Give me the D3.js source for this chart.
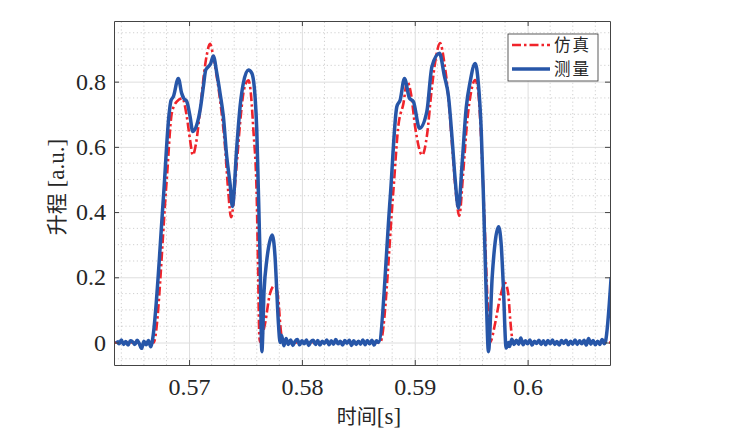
<!DOCTYPE html>
<html>
<head>
<meta charset="utf-8">
<script src="https://cdn.jsdelivr.net/npm/d3@7"></script>
<style>
  body { margin: 0; background: #fff; }
  svg { display: block; }
</style>
</head>
<body>
<div id="chart"></div>
<script>
// size of the page and of the plot box
const width = 733;
const height = 446;
const margin = {left: 114, right: 123, top: 21, bottom: 81};

// tick values
const xTicks = [0.57, 0.58, 0.59, 0.6];
const yTicks = [0, 0.2, 0.4, 0.6, 0.8];

// legend names
const seriesNames = ["仿真", "测量"];

// simulated lift (red dash-dot)
const simTime = [
  0.5633, 0.56685, 0.56802, 0.56847, 0.56891, 0.56941, 0.5698, 0.57009, 0.57033, 0.57062,
  0.57098, 0.57133, 0.57157, 0.57186, 0.57215, 0.57246, 0.57275, 0.57319, 0.57348, 0.57372,
  0.57423, 0.57452, 0.57481, 0.57512, 0.57527, 0.57541, 0.5757, 0.576, 0.57612, 0.57623,
  0.57629, 0.57647, 0.57674, 0.57718, 0.57762, 0.57792, 0.57807, 0.57822, 0.57833,
  0.58693, 0.58811, 0.58853, 0.589, 0.58933, 0.58968, 0.59004, 0.59066, 0.5911, 0.59145,
  0.59181, 0.59225, 0.59261, 0.59296, 0.59332, 0.59367, 0.59394, 0.59429, 0.59465, 0.595,
  0.59535, 0.59562, 0.59589, 0.59615, 0.59642, 0.59668, 0.59713, 0.59757, 0.59801, 0.59828,
  0.59846, 0.59861, 0.59872, 0.6076
];
const simLift = [
  0, 0, 0.498, 0.703, 0.739, 0.749, 0.693, 0.621, 0.575, 0.611,
  0.713, 0.826, 0.882, 0.916, 0.877, 0.815, 0.744, 0.60, 0.46, 0.384,
  0.55, 0.672, 0.764, 0.80, 0.804, 0.785, 0.652, 0.442, 0.22, 0.018,
  0.002, 0.02, 0.059, 0.151, 0.176, 0.13, 0.059, 0.013, 0,
  0, 0.468, 0.66, 0.734, 0.80, 0.76, 0.66, 0.575, 0.64, 0.76,
  0.86, 0.918, 0.86, 0.76, 0.60, 0.45, 0.388, 0.52, 0.68, 0.77,
  0.805, 0.77, 0.62, 0.40, 0.15, 0.002, 0.06, 0.14, 0.182, 0.15,
  0.07, 0.018, 0, 0
];

// measured lift (blue solid)
const measTime = [
  0.5636, 0.5638, 0.564, 0.5642, 0.5644, 0.5646, 0.5648, 0.565, 0.5652, 0.5654,
  0.5656, 0.5658, 0.566, 0.5662, 0.5664, 0.5666,
  0.56672, 0.56772, 0.56823, 0.5684, 0.56861, 0.56905, 0.56935, 0.56953, 0.5698, 0.57009,
  0.57033, 0.57068, 0.57098, 0.57127, 0.57148, 0.57171, 0.57192, 0.57215, 0.57246, 0.57275,
  0.57304, 0.57334, 0.57363, 0.57384, 0.57423, 0.57452, 0.57481, 0.57526, 0.57556, 0.57585,
  0.576, 0.57614, 0.57629, 0.57645, 0.57665, 0.57689, 0.57718, 0.57736, 0.57762, 0.57777,
  0.57792, 0.57807,
  0.5782, 0.5784, 0.5786, 0.5788, 0.579, 0.5792, 0.5794, 0.5796, 0.5798, 0.58,
  0.5802, 0.5804, 0.5806, 0.5808, 0.581, 0.5812, 0.5814, 0.5816, 0.5818, 0.582,
  0.5822, 0.5824, 0.5826, 0.5828, 0.583, 0.5832, 0.5834, 0.5836, 0.5838, 0.584,
  0.5842, 0.5844, 0.5846, 0.5848, 0.585, 0.5852, 0.5854, 0.5856, 0.5858, 0.586,
  0.5862, 0.5864, 0.5866,
  0.58678, 0.58782, 0.58841, 0.58871, 0.58909, 0.58953, 0.58988, 0.59042, 0.59107, 0.59152,
  0.59219, 0.59261, 0.59299, 0.59332, 0.59358, 0.59387, 0.5942, 0.59456, 0.59491, 0.59535,
  0.59562, 0.59589, 0.59609, 0.59633, 0.59653, 0.59686, 0.59713, 0.59742, 0.59766, 0.59784,
  0.5981, 0.59831,
  0.5984, 0.5986, 0.5988, 0.599, 0.5992, 0.5994, 0.5996, 0.5998, 0.6, 0.6002,
  0.6004, 0.6006, 0.6008, 0.601, 0.6012, 0.6014, 0.6016, 0.6018, 0.602, 0.6022,
  0.6024, 0.6026, 0.6028, 0.603, 0.6032, 0.6034, 0.6036, 0.6038, 0.604, 0.6042,
  0.6044, 0.6046, 0.6048, 0.605, 0.6052, 0.6054, 0.6056, 0.6058, 0.606, 0.6062,
  0.6064, 0.6066, 0.6068,
  0.60688, 0.6074
];
const measLift = [
  0.006, -0.004, 0.008, -0.006, 0.003, -0.008, 0.005, 0.002, -0.006, 0.007,
  -0.004, -0.018, 0.004, -0.007, 0.006, -0.013,
  0, 0.44, 0.70, 0.742, 0.754, 0.81, 0.764, 0.749, 0.739, 0.693,
  0.647, 0.667, 0.713, 0.785, 0.836, 0.846, 0.856, 0.879, 0.826, 0.764,
  0.693, 0.57, 0.488, 0.417, 0.60, 0.723, 0.795, 0.836, 0.826, 0.754,
  0.652, 0.468, 0.263, -0.028, 0.16, 0.253, 0.314, 0.33, 0.263, 0.161,
  0.059, 0,
  0.022, -0.01, 0.012, -0.006, 0.008, -0.009, 0.004, 0.009, -0.007, 0.005,
  -0.004, 0.008, -0.009, 0.003, 0.007, -0.006, 0.006, -0.008, 0.004, -0.003,
  0.008, -0.007, 0.005, -0.005, 0.009, -0.004, 0.004, -0.008, 0.006, -0.002,
  0.007, -0.009, 0.005, -0.006, 0.004, -0.005, 0.008, -0.007, 0.006, -0.004,
  0.007, -0.008, 0.005,
  0, 0.442, 0.723, 0.744, 0.81, 0.749, 0.739, 0.657, 0.708, 0.846,
  0.887, 0.82, 0.754, 0.62, 0.50, 0.412, 0.55, 0.72, 0.80, 0.856,
  0.80, 0.65, 0.442, 0.15, -0.028, 0.20, 0.31, 0.355, 0.30, 0.18,
  -0.017, 0,
  -0.012, 0.01, -0.006, 0.007, -0.005, 0.014, -0.007, 0.005, -0.004, 0.008,
  -0.008, 0.004, -0.003, 0.007, -0.006, 0.005, -0.007, 0.006, -0.004, 0.008,
  -0.006, 0.003, -0.008, 0.006, -0.003, 0.007, -0.007, 0.004, -0.005, 0.008,
  -0.006, 0.005, -0.004, 0.007, -0.008, 0.012, -0.005, 0.006, -0.007, 0.004,
  -0.006, 0.009, -0.004,
  0, 0.20
];

const red = "#f0242b";
const blue = "#2756a8";
const serifFont = '"Liberation Serif"';
const cjkFont = '"Noto Sans CJK SC"';

const svg = d3.select("#chart")
  .append("svg")
  .attr("width", width)
  .attr("height", height);

// scales
const x = d3.scaleLinear()
  .domain([0.56335, 0.6073])
  .range([margin.left, width - margin.right]);
const y = d3.scaleLinear()
  .domain([-0.069, 0.986])
  .range([height - margin.bottom, margin.top]);

const x0 = margin.left, x1 = width - margin.right;
const y0 = height - margin.bottom, y1 = margin.top;

// minor grid (dotted)
const xMinor = d3.range(0.564, 0.6072, 0.002).filter(v => !xTicks.some(t => Math.abs(t - v) < 1e-6));
const yMinor = d3.range(-0.05, 0.98, 0.05).filter(v => !yTicks.some(t => Math.abs(t - v) < 1e-6));

svg.append("g")
  .selectAll("line.xm")
  .data(xMinor)
  .enter().append("line")
    .attr("x1", d => x(d)).attr("x2", d => x(d))
    .attr("y1", y0).attr("y2", y1)
    .attr("stroke", "#c4c4c4")
    .attr("stroke-width", 0.8)
    .attr("stroke-dasharray", "1.2,2.6");

svg.append("g")
  .selectAll("line.ym")
  .data(yMinor)
  .enter().append("line")
    .attr("x1", x0).attr("x2", x1)
    .attr("y1", d => y(d)).attr("y2", d => y(d))
    .attr("stroke", "#c4c4c4")
    .attr("stroke-width", 0.8)
    .attr("stroke-dasharray", "1.2,2.6");

// major grid (solid, light)
svg.append("g")
  .attr("transform", `translate(0,${y0})`)
  .call(d3.axisBottom(x).tickValues(xTicks).tickSize(-(y0 - y1)).tickFormat(""))
  .call(g => g.select(".domain").remove())
  .call(g => g.selectAll("line").attr("stroke", "#dedede").attr("stroke-width", 1));

svg.append("g")
  .attr("transform", `translate(${x0},0)`)
  .call(d3.axisLeft(y).tickValues(yTicks).tickSize(-(x1 - x0)).tickFormat(""))
  .call(g => g.select(".domain").remove())
  .call(g => g.selectAll("line").attr("stroke", "#dedede").attr("stroke-width", 1));

// lines, clipped to the plot box
svg.append("clipPath").attr("id", "clip")
  .append("rect")
  .attr("x", x0).attr("y", y1)
  .attr("width", x1 - x0).attr("height", y0 - y1);

const line = d3.line()
  .curve(d3.curveMonotoneX)
  .x(d => x(d[0]))
  .y(d => y(d[1]));

const simData = simTime.map((t, i) => [t, simLift[i]]);
const measData = measTime.map((t, i) => [t, measLift[i]]);

const plot = svg.append("g").attr("clip-path", "url(#clip)");

plot.append("path")
  .datum(simData)
  .attr("fill", "none")
  .attr("stroke", red)
  .attr("stroke-width", 2.6)
  .attr("stroke-dasharray", "9,3,2.5,3")
  .attr("d", line);

plot.append("path")
  .datum(measData)
  .attr("fill", "none")
  .attr("stroke", blue)
  .attr("stroke-width", 3.5)
  .attr("stroke-linejoin", "round")
  .attr("d", line);

// axes with labels, plus top and right ticks (box)
const axisColor = "#444";

const gx = svg.append("g")
  .attr("transform", `translate(0,${y0})`)
  .call(d3.axisBottom(x).tickValues(xTicks).tickSizeInner(-5).tickSizeOuter(0).tickPadding(13)
        .tickFormat(d => d3.format("")(+d.toFixed(2))));
gx.select(".domain").attr("stroke", axisColor);
gx.selectAll("line").attr("stroke", axisColor);
gx.selectAll("text").attr("fill", "#262626")
  .style("font-family", serifFont).style("font-size", "24px");

const gy = svg.append("g")
  .attr("transform", `translate(${x0},0)`)
  .call(d3.axisLeft(y).tickValues(yTicks).tickSizeInner(-5).tickSizeOuter(0).tickPadding(8)
        .tickFormat(d => d3.format("")(+d.toFixed(1))));
gy.select(".domain").attr("stroke", axisColor);
gy.selectAll("line").attr("stroke", axisColor);
gy.selectAll("text").attr("fill", "#262626")
  .style("font-family", serifFont).style("font-size", "24px");

svg.append("g")
  .attr("transform", `translate(0,${y1})`)
  .call(d3.axisTop(x).tickValues(xTicks).tickSizeInner(-5).tickSizeOuter(0).tickFormat(""))
  .call(g => g.select(".domain").attr("stroke", axisColor))
  .call(g => g.selectAll("line").attr("stroke", axisColor));

svg.append("g")
  .attr("transform", `translate(${x1},0)`)
  .call(d3.axisRight(y).tickValues(yTicks).tickSizeInner(-5).tickSizeOuter(0).tickFormat(""))
  .call(g => g.select(".domain").attr("stroke", axisColor))
  .call(g => g.selectAll("line").attr("stroke", axisColor));

// axis titles: Chinese part and Latin part in separate tspans
const xTitle = svg.append("text")
  .attr("x", 369)
  .attr("y", 424)
  .attr("text-anchor", "middle")
  .attr("fill", "#262626");
xTitle.append("tspan").style("font-family", cjkFont).style("font-size", "20px").text("时间");
xTitle.append("tspan").style("font-family", serifFont).style("font-size", "23px").text("[s]");

const yTitle = svg.append("text")
  .attr("transform", "translate(64,187) rotate(-90)")
  .attr("text-anchor", "middle")
  .attr("fill", "#262626");
yTitle.append("tspan").style("font-family", cjkFont).style("font-size", "21px").text("升程");
yTitle.append("tspan").style("font-family", serifFont).style("font-size", "23px").text(" [a.u.]");

// legend
const legend = svg.append("g");
legend.append("rect")
  .attr("x", 508).attr("y", 34)
  .attr("width", 90).attr("height", 47)
  .attr("fill", "#fff")
  .attr("stroke", "#333")
  .attr("stroke-width", 0.8);

const legendStyles = [
  {color: red, width: 2.6, dash: "9,3,2.5,3"},
  {color: blue, width: 3.5, dash: null}
];

seriesNames.forEach((name, i) => {
  const ly = 45 + i * 24;
  legend.append("line")
    .attr("x1", 512).attr("x2", 550)
    .attr("y1", ly).attr("y2", ly)
    .attr("stroke", legendStyles[i].color)
    .attr("stroke-width", legendStyles[i].width)
    .attr("stroke-dasharray", legendStyles[i].dash);
  legend.append("text")
    .attr("x", 554)
    .attr("y", ly + 6)
    .style("font-family", cjkFont)
    .style("font-size", "16.5px")
    .style("letter-spacing", "2px")
    .attr("fill", "#262626")
    .text(name);
});
</script>
</body>
</html>
